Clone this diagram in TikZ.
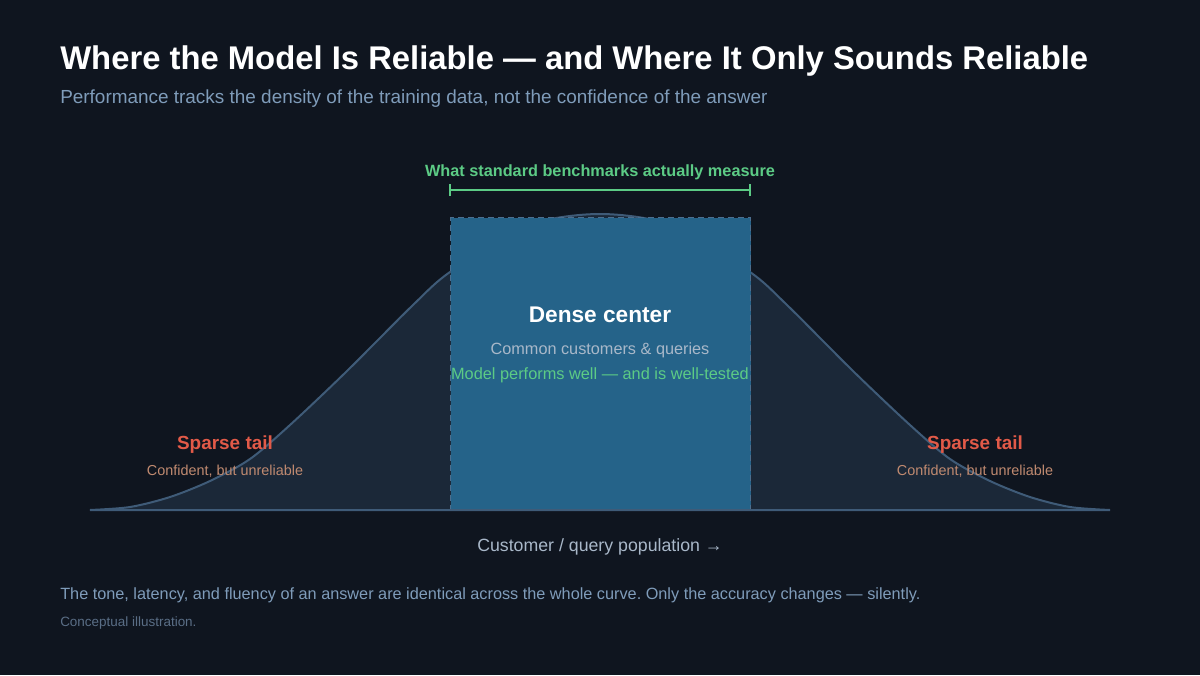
\documentclass[tikz,border=0pt]{standalone}
\usepackage{fontspec}
\setmainfont{Liberation Sans}
\usetikzlibrary{positioning}
\definecolor{bgDark}{HTML}{0F151F}
\definecolor{curveFill}{HTML}{1B2838}
\definecolor{curveLine}{HTML}{3F5B78}
\definecolor{denseBlue}{HTML}{256389}
\definecolor{denseEdge}{HTML}{4D6E8E}
\definecolor{benchGreen}{HTML}{5CCB85}
\definecolor{tailRed}{HTML}{E25A48}
\definecolor{tailTan}{HTML}{C08A70}
\definecolor{subGrey}{HTML}{7F9CBA}
\definecolor{softGrey}{HTML}{A9B8C9}
\definecolor{noteGrey}{HTML}{5A6E86}
\frenchspacing
\begin{document}
\begin{tikzpicture}[x=0.75pt,y=-0.75pt,inner sep=0pt,
  every node/.style={align=center},
  lefttext/.style={anchor=base west},
  midtext/.style={anchor=base}]
\fill[bgDark] (0,0) rectangle (1200,675);
\useasboundingbox (0,0) rectangle (1200,675);
% heading
\node[lefttext,text=white,font=\fontsize{24.6}{28}\selectfont\bfseries] (title) at (60,69) {Where the Model Is Reliable — and Where It Only Sounds Reliable};
\node[lefttext,text=subGrey,font=\fontsize{14.2}{17}\selectfont] (subtitle) at (60,103) {Performance tracks the density of the training data, not the confidence of the answer};
% curve
\path[fill=curveFill,draw=curveLine,line width=1.5pt] plot[smooth] coordinates {(90,510) (130,507) (170,497) (210,481) (250,459) (290,425) (347,371) (413,305) (450,272) (525,226) (600,214) (675,226) (750,272) (787,305) (853,371) (910,425) (950,459) (990,481) (1030,497) (1070,507) (1110,510)} -- cycle;
% dense center block
\node[draw=denseEdge,dash pattern=on 4.5pt off 3pt,fill=denseBlue,line width=1.1pt,minimum width=300*0.75pt,minimum height=293*0.75pt,anchor=north west] (dense) at (450,217) {};
\draw[curveLine,line width=1.6pt] (90,510) coordinate (axisL) -- (1110,510) coordinate (axisR);
% benchmark bracket
\node[midtext,text=benchGreen,font=\fontsize{12.2}{14}\selectfont\bfseries] (bench) at (600,176) {What standard benchmarks actually measure};
\coordinate (brL) at (450,190);
\coordinate (brR) at (750,190);
\draw[benchGreen,line width=1.5pt] (brL) -- (brR);
\draw[benchGreen,line width=1.5pt] ([yshift=-4.5pt]brL) -- ([yshift=4.5pt]brL);
\draw[benchGreen,line width=1.5pt] ([yshift=-4.5pt]brR) -- ([yshift=4.5pt]brR);
% labels in the block
\node[midtext,text=white,font=\fontsize{17}{20}\selectfont\bfseries] (denseT) at (600,322) {Dense center};
\node[midtext,text=softGrey,font=\fontsize{12.2}{14}\selectfont] (denseA) at (600,354) {Common customers \& queries};
\node[midtext,text=benchGreen,font=\fontsize{12.25}{14}\selectfont] (denseB) at (600,379) {Model performs well — and is well-tested};
% tails
\node[midtext,text=tailRed,font=\fontsize{14.2}{17}\selectfont\bfseries] (tailL) at (225,449) {Sparse tail};
\node[midtext,text=tailTan,font=\fontsize{10.8}{13}\selectfont] (tailLs) at (225,475) {Confident, but unreliable};
\node[midtext,text=tailRed,font=\fontsize{14.2}{17}\selectfont\bfseries] (tailR) at (975,449) {Sparse tail};
\node[midtext,text=tailTan,font=\fontsize{10.8}{13}\selectfont] (tailRs) at (975,475) {Confident, but unreliable};
% axis label
\node[midtext,text=softGrey,font=\fontsize{13.3}{16}\selectfont] (axisT) at (600,551) {Customer / query population →};
% footer
\node[lefttext,text=subGrey,font=\fontsize{12.2}{15}\selectfont] (foot) at (60,599) {The tone, latency, and fluency of an answer are identical across the whole curve. Only the accuracy changes — silently.};
\node[lefttext,text=noteGrey,font=\fontsize{10.1}{12}\selectfont] (note) at (60,626) {Conceptual illustration.};
\end{tikzpicture}
\end{document}
